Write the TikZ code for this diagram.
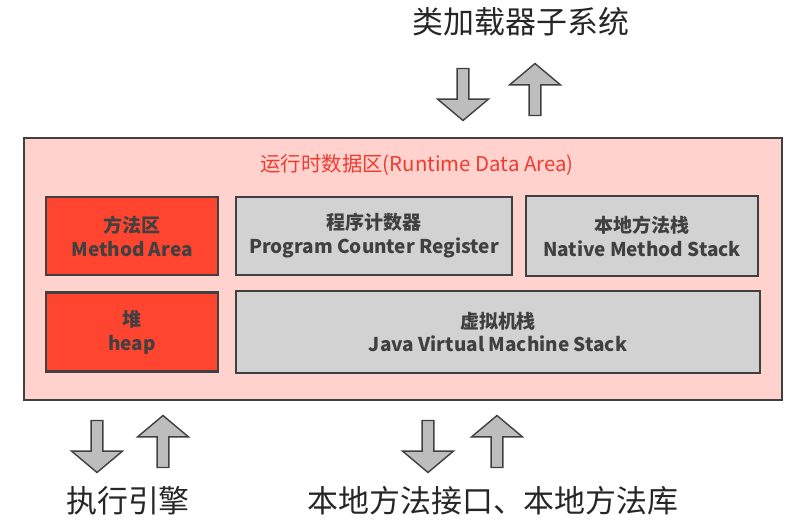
\documentclass[tikz,border=0pt]{standalone}
\usepackage{fontspec}
\setmainfont{Noto Sans CJK SC}
\usetikzlibrary{shapes.arrows}

\definecolor{areapink}{HTML}{FFD2CE}
\definecolor{areared}{HTML}{FF4530}
\definecolor{boxgray}{HTML}{D2D2D2}
\definecolor{arrowgray}{HTML}{BDBDBD}
\definecolor{edgegray}{HTML}{404040}
\definecolor{titlered}{HTML}{F03C30}

\tikzset{
  membox/.style={draw=edgegray,line width=1.6pt,align=center,font=\bfseries\fontsize{13.5}{17}\selectfont,text=black!75},
  redbox/.style={membox,fill=areared},
  graybox/.style={membox,fill=boxgray},
  blockarrow/.style={single arrow,draw=edgegray,line width=1pt,fill=arrowgray,inner sep=0.13cm,
    single arrow head extend=0.49cm,single arrow tip angle=100,minimum height=1.3cm},
  bigtext/.style={font=\fontsize{22}{26}\selectfont,text=black!85}
}

\begin{document}
\begin{tikzpicture}[x=0.025cm,y=-0.025cm]
\useasboundingbox (0,0) rectangle (789,524);

\node[draw=edgegray,line width=1.4pt,fill=areapink,minimum width=18.95cm,minimum height=6.55cm] (rda) at (403,269) {};
\node[text=titlered,font=\fontsize{14.5}{17}\selectfont] (rdatitle) at (417,165) {运行时数据区(Runtime Data Area)};

\node[redbox,minimum width=4.3cm,minimum height=1.95cm] (method) at (132,236) {方法区\\Method Area};
\node[graybox,minimum width=6.9cm,minimum height=1.95cm] (pc) at (374,236) {程序计数器\\Program Counter Register};
\node[graybox,minimum width=5.8cm,minimum height=2cm] (native) at (642,236) {本地方法栈\\Native Method Stack};
\node[redbox,minimum width=4.3cm,minimum height=1.975cm] (heap) at (132,332) {堆\\heap};
\node[graybox,minimum width=13.1cm,minimum height=2.05cm] (jvm) at (498,332) {虚拟机栈\\Java Virtual Machine Stack};

% class loader subsystem
\node[bigtext] (loader) at (521,22) {类加载器子系统};
\node[blockarrow,rotate=-90] (loaderin) at (463,92) {};
\node[blockarrow,rotate=90] (loaderout) at (535,92) {};

% execution engine
\node[blockarrow,rotate=-90] (enginein) at (97,444) {};
\node[blockarrow,rotate=90] (engineout) at (163,444) {};
\node[bigtext] (engine) at (128,501) {执行引擎};

% native interface
\node[blockarrow,rotate=-90] (nativein) at (428,444) {};
\node[blockarrow,rotate=90] (nativeout) at (497,444) {};
\node[bigtext] (nativelib) at (493,501) {本地方法接口、本地方法库};
\end{tikzpicture}
\end{document}
